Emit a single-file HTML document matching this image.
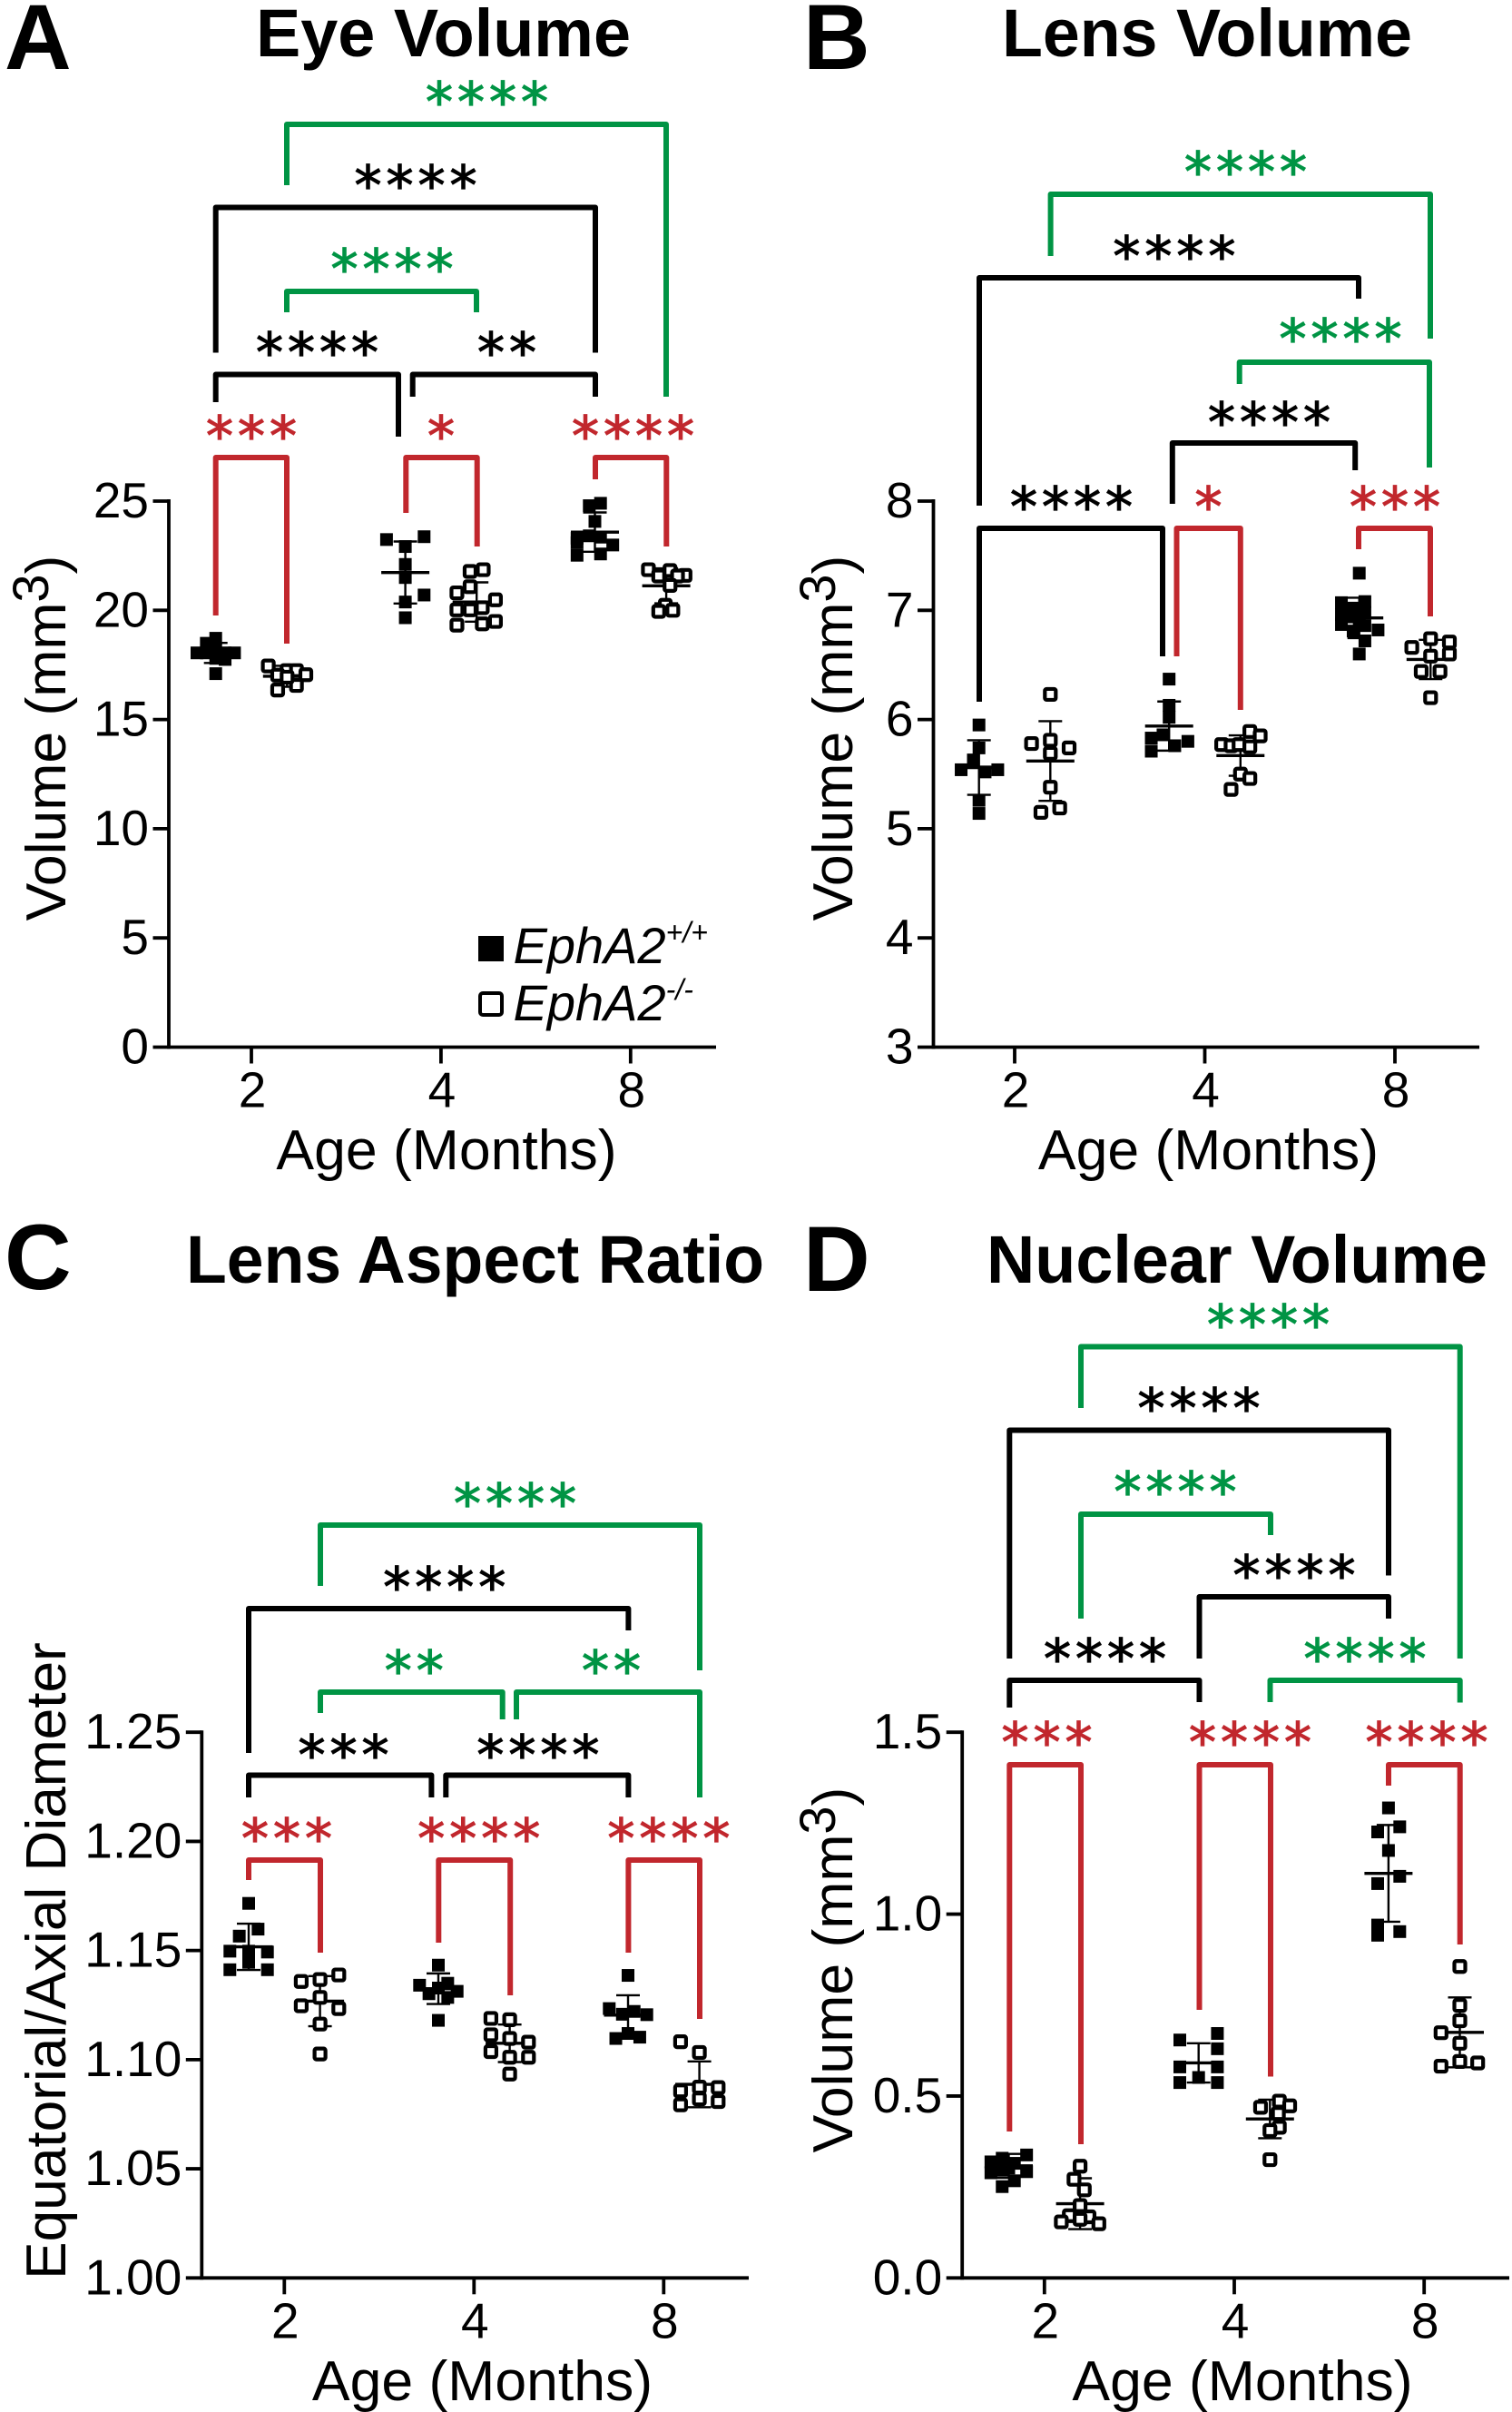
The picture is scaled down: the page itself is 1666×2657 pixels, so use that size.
<!DOCTYPE html>
<html lang="en">
<head>
<meta charset="utf-8">
<title>EphA2 lens and eye measurements</title>
<style>
html,body{margin:0;padding:0;background:#fff}
svg{display:block}
text{font-family:"Liberation Sans",sans-serif;fill:#000}
.panel-letter{font-size:102px;font-weight:700}
.title{font-size:74px;font-weight:700}
.axis-title{font-size:62.5px}
.tick-label{font-size:55px}
.stars{font-family:"DejaVu Sans",sans-serif;font-size:60px;letter-spacing:5px;text-anchor:middle;stroke-width:1.2px}
.k{fill:#000;stroke:#000}.r{fill:#c1272d;stroke:#c1272d}.g{fill:#009444;stroke:#009444}
.br{fill:none;stroke-width:6;stroke-linejoin:round}
.bk{stroke:#000}.br-r{stroke:#c1272d}.br-g{stroke:#009444}
.legend-text{font-size:56px;font-style:italic}
</style>
</head>
<body>
<svg id="figure" xmlns="http://www.w3.org/2000/svg" width="1666" height="2657" viewBox="0 0 1666 2657">
<rect width="1666" height="2657" fill="#fff"/>

<g id="panel-a">
  <text class="panel-letter" x="5" y="76">A</text>
  <text class="title" x="282" y="62" textLength="413" lengthAdjust="spacingAndGlyphs">Eye Volume</text>
  <text class="axis-title" transform="translate(72,813) rotate(-90)" text-anchor="middle">Volume (mm<tspan font-size="56" dy="-19">3</tspan><tspan dy="19">)</tspan></text>
  <text class="axis-title" x="492" y="1288" text-anchor="middle">Age (Months)</text>
  <path class="br br-g" d="M316 204V137H734V437"/>
  <path class="br bk" d="M237.7 388.5V228.5H656V388.5"/>
  <path class="br br-g" d="M316 344V321H525V344"/>
  <path class="br bk" d="M237.7 443V412.5H439V481"/>
  <path class="br bk" d="M454.7 437V412.5H656V437"/>
  <path class="br br-r" d="M237.7 678V504H316V709"/>
  <path class="br br-r" d="M447.3 565V504H525.7V602"/>
  <path class="br br-r" d="M656 528V504H734.3V602"/>
  <text class="stars g" x="539" y="133">****</text>
  <text class="stars k" x="460.5" y="225">****</text>
  <text class="stars g" x="434.5" y="317">****</text>
  <text class="stars k" x="352" y="409">****</text>
  <text class="stars k" x="561" y="409">**</text>
  <text class="stars r" x="279.5" y="501">***</text>
  <text class="stars r" x="488.5" y="501">*</text>
  <text class="stars r" x="700" y="501">****</text>
  <rect x="527" y="1031" width="28" height="28" fill="#000"/>
  <rect x="529" y="1094" width="24" height="24" rx="3" fill="#fff" stroke="#000" stroke-width="4"/>
  <text class="legend-text" x="565.5" y="1061">EphA2<tspan font-size="32" dy="-23">+/+</tspan></text>
  <text class="legend-text" x="565.5" y="1124">EphA2<tspan font-size="32" dy="-23">-/-</tspan></text>
</g>

<g id="panel-b">
  <text class="panel-letter" x="885" y="76">B</text>
  <text class="title" x="1104" y="62" textLength="452" lengthAdjust="spacingAndGlyphs">Lens Volume</text>
  <text class="axis-title" transform="translate(939,813) rotate(-90)" text-anchor="middle">Volume (mm<tspan font-size="56" dy="-19">3</tspan><tspan dy="19">)</tspan></text>
  <text class="axis-title" x="1331.5" y="1288" text-anchor="middle">Age (Months)</text>
  <path class="br br-g" d="M1157.6 282V214H1576V373"/>
  <path class="br bk" d="M1079 557V306H1497V329"/>
  <path class="br br-g" d="M1365.7 423V399H1575V515"/>
  <path class="br bk" d="M1291.8 555V488H1493.2V518"/>
  <path class="br bk" d="M1079 773V582H1281V723"/>
  <path class="br br-r" d="M1296.5 723V582H1366.8V782"/>
  <path class="br br-r" d="M1497 605V582H1576V679"/>
  <text class="stars g" x="1375" y="210">****</text>
  <text class="stars k" x="1296.4" y="303">****</text>
  <text class="stars g" x="1479.5" y="394">****</text>
  <text class="stars k" x="1401" y="486">****</text>
  <text class="stars k" x="1183" y="579">****</text>
  <text class="stars r" x="1334" y="579">*</text>
  <text class="stars r" x="1539.5" y="579">***</text>
</g>

<g id="panel-c">
  <text class="panel-letter" x="5" y="1420">C</text>
  <text class="title" x="205" y="1413" textLength="637" lengthAdjust="spacingAndGlyphs">Lens Aspect Ratio</text>
  <text class="axis-title" style="font-size:62.2px" transform="translate(72,2160) rotate(-90)" text-anchor="middle">Equatorial/Axial Diameter</text>
  <text class="axis-title" x="531.5" y="2644" text-anchor="middle">Age (Months)</text>
  <path class="br br-g" d="M353 1747V1680H771V1840"/>
  <path class="br bk" d="M274 1931V1772H692.4V1796"/>
  <path class="br br-g" d="M353 1887V1864H553.7V1894"/>
  <path class="br br-g" d="M569 1894V1864H771V1980"/>
  <path class="br bk" d="M274 1980V1955.5H475.4V1980"/>
  <path class="br bk" d="M491.3 1980V1955.5H692.4V1980"/>
  <path class="br br-r" d="M274 2071V2049H353V2151"/>
  <path class="br br-r" d="M483.3 2140V2049H562.2V2198"/>
  <path class="br br-r" d="M692.4 2151V2049H771V2224"/>
  <text class="stars g" x="570" y="1677">****</text>
  <text class="stars k" x="492.2" y="1769">****</text>
  <text class="stars g" x="458.8" y="1861">**</text>
  <text class="stars g" x="676" y="1861">**</text>
  <text class="stars k" x="381" y="1954">***</text>
  <text class="stars k" x="595.4" y="1954">****</text>
  <text class="stars r" x="318.5" y="2046">***</text>
  <text class="stars r" x="530.3" y="2046">****</text>
  <text class="stars r" x="739.4" y="2046">****</text>
</g>

<g id="panel-d">
  <text class="panel-letter" x="885" y="1422">D</text>
  <text class="title" x="1087" y="1413" textLength="552" lengthAdjust="spacingAndGlyphs">Nuclear Volume</text>
  <text class="axis-title" transform="translate(939,2170) rotate(-90)" text-anchor="middle">Volume (mm<tspan font-size="56" dy="-19">3</tspan><tspan dy="19">)</tspan></text>
  <text class="axis-title" x="1369" y="2644" text-anchor="middle">Age (Months)</text>
  <path class="br br-g" d="M1191 1551V1483.5H1608.7V1827"/>
  <path class="br bk" d="M1112.3 1827V1575.5H1530V1735.5"/>
  <path class="br br-g" d="M1191 1783V1668H1400V1691"/>
  <path class="br bk" d="M1321.5 1827V1759H1530V1783"/>
  <path class="br bk" d="M1112.3 1881V1851H1321.5V1875"/>
  <path class="br br-g" d="M1399.5 1875V1851H1608.7V1875.5"/>
  <path class="br br-r" d="M1112.3 2348V1944H1191V2362"/>
  <path class="br br-r" d="M1321.5 2214V1944H1400V2287.5"/>
  <path class="br br-r" d="M1530 1967V1944H1608.7V2142"/>
  <text class="stars g" x="1400" y="1480">****</text>
  <text class="stars k" x="1323.5" y="1572">****</text>
  <text class="stars g" x="1297.5" y="1664">****</text>
  <text class="stars k" x="1428.5" y="1756">****</text>
  <text class="stars k" x="1220" y="1848">****</text>
  <text class="stars g" x="1506.5" y="1848">****</text>
  <text class="stars r" x="1156" y="1940">***</text>
  <text class="stars r" x="1380" y="1940">****</text>
  <text class="stars r" x="1574.5" y="1940">****</text>
</g>
</svg>

<script>
// Shared categories
const ageCategories = ['2', '4', '8'];

// Panel A: Eye Volume
const eyeTicks = [0, 5, 10, 15, 20, 25];
const eyeTickLabels = ['0', '5', '10', '15', '20', '25'];
const eyeWt2 = [18.72, 18.49, 18.2, 18.05, 18.05, 18.05, 18.05, 17.8, 17.75, 17.1];
const eyeWt4 = [23.24, 23.37, 22.92, 22.1, 21.5, 20.7, 20.38, 19.66];
const eyeWt8 = [24.9, 24.79, 24.07, 23.3, 23.41, 23.35, 22.99, 22.52, 22.58, 23.1];
const eyeKo2 = [17.45, 17.24, 17.24, 17.05, 17.03, 16.56, 16.35, 16.94];
const eyeKo4 = [21.86, 21.78, 21.08, 20.8, 20.48, 20.12, 20.02, 20.02, 19.49, 19.38, 19.32];
const eyeKo8 = [21.86, 21.82, 21.57, 21.6, 21.57, 21.14, 20.23, 19.95, 20.0];
const eyeWtSlots2 = [0, -1, 0, -2, -1, 1, 2, 0, 1, 0];
const eyeWtSlots4 = [-2, 2, 0, 0, 0, 2, 0, 0];
const eyeWtSlots8 = [0.6, -0.6, 0, -1.9, -0.6, 0.6, 1.9, -1.9, 0.6, -1.9];
const eyeKoSlots2 = [-2, 0, 1, 2, -1, 1, -1, 0];
const eyeKoSlots4 = [0.7, -0.7, -0.7, -2.1, 2, 0.6, -0.7, -2.1, 2, 0.6, -2.1];
const eyeKoSlots8 = [-1.9, 0.4, -0.8, 2, 1.2, 0.4, -0.1, -0.8, 0.7];
const eyeWtMean = [18.05, 21.73, 23.58];
const eyeWtSd = [0.46, 1.42, 0.9];
const eyeKoMean = [16.98, 20.38, 21.12];
const eyeKoSd = [0.48, 0.9, 0.8];

// Panel B: Lens Volume
const lensTicks = [3, 4, 5, 6, 7, 8];
const lensTickLabels = ['3', '4', '5', '6', '7', '8'];
const lensWt2 = [5.95, 5.74, 5.63, 5.54, 5.52, 5.54, 5.26, 5.14];
const lensWt4 = [6.37, 6.13, 6.02, 5.83, 5.86, 5.8, 5.76, 5.71];
const lensWt8 = [7.34, 7.07, 7.02, 7.08, 6.96, 6.94, 6.98, 6.87, 6.81, 6.86, 6.82, 6.72, 6.6, 7.0, 6.92];
const lensKo2 = [6.23, 5.81, 5.78, 5.74, 5.69, 5.38, 5.19, 5.15];
const lensKo4 = [5.89, 5.85, 5.77, 5.76, 5.77, 5.75, 5.5, 5.46, 5.36];
const lensKo8 = [6.74, 6.66, 6.71, 6.6, 6.58, 6.44, 6.44, 6.2];
const lensWtSlots2 = [0, 0, -0.6, -1.9, 0.65, 2, 0, 0];
const lensWtSlots4 = [0, 0, 0, -1.9, -0.65, 2, 0.6, -1.9];
const lensWtSlots8 = [0, -1.9, -0.65, 0.6, -1.9, -0.65, 0.6, -1.9, -0.65, 0.6, 2, 0.6, 0, -1.3, 0];
const lensKoSlots2 = [0, 0, -2, 2, 0, 0, 1, -1];
const lensKoSlots4 = [1, 2.1, -2, -1, -0.15, 1, 0, 1, -1];
const lensKoSlots8 = [0, -2, 2, 2, 0, -1, 1, 0];
const lensWtMean = [5.56, 5.94, 6.93];
const lensWtSd = [0.25, 0.225, 0.185];
const lensKoMean = [5.62, 5.67, 6.55];
const lensKoSd = [0.365, 0.185, 0.18];

// Panel C: Lens Aspect Ratio
const ratioTicks = [1.0, 1.05, 1.1, 1.15, 1.2, 1.25];
const ratioTickLabels = ['1.00', '1.05', '1.10', '1.15', '1.20', '1.25'];
const ratioWt2 = [1.1716, 1.1598, 1.1566, 1.1497, 1.1497, 1.1493, 1.1446, 1.1412, 1.1412];
const ratioWt4 = [1.1433, 1.1341, 1.135, 1.1302, 1.1328, 1.1313, 1.1285, 1.118];
const ratioWt8 = [1.1386, 1.1234, 1.1221, 1.1208, 1.1206, 1.112, 1.1097, 1.1103];
const ratioKo2 = [1.1388, 1.1358, 1.1367, 1.1285, 1.1247, 1.1234, 1.1163, 1.1026];
const ratioKo4 = [1.1189, 1.1183, 1.1114, 1.1097, 1.108, 1.1037, 1.1011, 1.1011, 1.0934];
const ratioKo8 = [1.1082, 1.1033, 1.0874, 1.0857, 1.0872, 1.082, 1.0808, 1.0793];
const ratioWtSlots2 = [0, 1, -1, -2, 0, 2, 0, -2, 2];
const ratioWtSlots4 = [0, -2, 1, -1, 0, 2, 1, 0];
const ratioWtSlots8 = [0, -2, 0.65, -0.6, 2, 0, -1.3, 1.25];
const ratioKoSlots2 = [2, -2, 0, 0, -2, 2, 0, 0];
const ratioKoSlots4 = [-2, 0, -2, 0, 2, -2, 0, 2, 0];
const ratioKoSlots8 = [-2, 0, 0, -2, 2, 0, 2, -2];
const ratioWtMean = [1.1517, 1.1325, 1.1204];
const ratioWtSd = [0.0106, 0.007, 0.0091];
const ratioKoMean = [1.1268, 1.1075, 1.0887];
const ratioKoSd = [0.0115, 0.0086, 0.0105];

// Panel D: Nuclear Volume
const nuclearTicks = [0, 0.5, 1.0, 1.5];
const nuclearTickLabels = ['0.0', '0.5', '1.0', '1.5'];
const nuclearWt2 = [0.338, 0.329, 0.319, 0.315, 0.289, 0.302, 0.292, 0.267, 0.251, 0.296];
const nuclearWt4 = [0.672, 0.654, 0.63, 0.58, 0.58, 0.551, 0.537, 0.537];
const nuclearWt8 = [1.292, 1.24, 1.226, 1.175, 1.104, 1.084, 0.97, 0.942, 0.952];
const nuclearKo2 = [0.307, 0.271, 0.242, 0.199, 0.171, 0.168, 0.161, 0.154, 0.149];
const nuclearKo4 = [0.486, 0.469, 0.473, 0.452, 0.414, 0.405, 0.325];
const nuclearKo8 = [0.856, 0.749, 0.707, 0.674, 0.645, 0.595, 0.591, 0.582];
const nuclearWtSlots2 = [1.9, -0.7, -1.9, 0.6, -1.9, 0, 1.9, 0.6, -0.7, -0.7];
const nuclearWtSlots4 = [2, -2, 2, -2, 2, 0, -2, 2];
const nuclearWtSlots8 = [0, 1.2, -1.15, 0, 1.2, -1.15, -1.15, -1.15, 1.2];
const nuclearKoSlots2 = [0, -0.65, 0.45, 0, -1.15, 0.95, 0, -2, 2];
const nuclearKoSlots4 = [1, -1, 2.1, 0.9, 1, 0, 0];
const nuclearKoSlots8 = [0, 0, 0, -2, 0, 0, 1.9, -2];
const nuclearWtMean = [0.308, 0.591, 1.112];
const nuclearWtSd = [0.033, 0.054, 0.133];
const nuclearKoMean = [0.204, 0.437, 0.675];
const nuclearKoSd = [0.07, 0.053, 0.096];

const SVG_NS = 'http://www.w3.org/2000/svg';

function make(parent, tag, attrs) {
  const node = document.createElementNS(SVG_NS, tag);
  for (const key in attrs) node.setAttribute(key, attrs[key]);
  parent.appendChild(node);
  return node;
}

function linearScale(domainMin, domainMax, rangeMin, rangeMax) {
  return function (v) {
    return rangeMin + (v - domainMin) / (domainMax - domainMin) * (rangeMax - rangeMin);
  };
}

function drawAxes(panel, y, ticks, labels, frame) {
  const yAxis = make(panel, 'line', { x1: frame.axisX, x2: frame.axisX, y1: y(ticks[ticks.length - 1]) - 2, y2: frame.baseY + 2, stroke: '#000', 'stroke-width': 3.8 });
  
  
  const xAxis = make(panel, 'line', { x1: frame.axisX, x2: frame.endX, y1: frame.baseY, y2: frame.baseY, stroke: '#000', 'stroke-width': 3.8 });
  
  
  ticks.forEach(function (t, i) {
    const tick = make(panel, 'line', { x1: frame.axisX - 17.5, x2: frame.axisX, y1: y(t), y2: y(t), stroke: '#000', 'stroke-width': 3.8 });
    
    
    const label = make(panel, 'text', { class: 'tick-label', x: frame.axisX - 22, y: y(t) + 18, 'text-anchor': 'end' });
    
    
    label.textContent = labels[i];
  });
  ageCategories.forEach(function (c, i) {
    const tx = frame.firstTick + i * frame.tickStep;
    const tick = make(panel, 'line', { x1: tx, x2: tx, y1: frame.baseY, y2: frame.baseY + 18, stroke: '#000', 'stroke-width': 3.8 });
    
    
    const label = make(panel, 'text', { class: 'tick-label', x: tx + 1, y: frame.baseY + 66, 'text-anchor': 'middle' });
    
    
    label.textContent = c;
  });
}

function drawGroup(panel, y, cx, values, slots, mean, sd, isOpen) {
  const stem = make(panel, 'line', { x1: cx, x2: cx, y1: y(mean + sd), y2: y(mean - sd), stroke: '#000', 'stroke-width': 2.4 });
  
  
  [mean + sd, mean - sd].forEach(function (e) {
    const cap = make(panel, 'line', { x1: cx - 13, x2: cx + 13, y1: y(e), y2: y(e), stroke: '#000', 'stroke-width': 2.4 });
    
    
  });
  const meanLine = make(panel, 'line', { x1: cx - 26.5, x2: cx + 26.5, y1: y(mean), y2: y(mean), stroke: '#000', 'stroke-width': 3.4 });
  
  
  values.forEach(function (v, i) {
    const px = cx + slots[i] * 10.35;
    const mark = isOpen
      ? make(panel, 'rect', { x: px - 6, y: y(v) - 6, width: 12, height: 12, rx: 2, fill: '#fff', stroke: '#000', 'stroke-width': 4.2 })
      : make(panel, 'rect', { x: px - 7, y: y(v) - 7, width: 14, height: 14, fill: '#000' });
    
    
  });
}

function drawPanel(id, frame, domain, ticks, labels, wt, wtSlots, wtMean, wtSd, ko, koSlots, koMean, koSd) {
  const panel = document.getElementById(id);
  const y = linearScale(domain[0], domain[1], frame.baseY, frame.topY);
  drawAxes(panel, y, ticks, labels, frame);
  ageCategories.forEach(function (c, i) {
    const tx = frame.firstTick + i * frame.tickStep;
    drawGroup(panel, y, tx - frame.offset, wt[i], wtSlots[i], wtMean[i], wtSd[i], false);
    drawGroup(panel, y, tx + frame.offset, ko[i], koSlots[i], koMean[i], koSd[i], true);
  });
}

drawPanel('panel-a',
  { axisX: 186, endX: 789, baseY: 1153.5, topY: 552, firstTick: 277, tickStep: 208.9, offset: 39.3 },
  [0, 25], eyeTicks, eyeTickLabels,
  [eyeWt2, eyeWt4, eyeWt8], [eyeWtSlots2, eyeWtSlots4, eyeWtSlots8], eyeWtMean, eyeWtSd,
  [eyeKo2, eyeKo4, eyeKo8], [eyeKoSlots2, eyeKoSlots4, eyeKoSlots8], eyeKoMean, eyeKoSd);

drawPanel('panel-b',
  { axisX: 1028.5, endX: 1630, baseY: 1153.5, topY: 552, firstTick: 1118, tickStep: 209.5, offset: 39.3 },
  [3, 8], lensTicks, lensTickLabels,
  [lensWt2, lensWt4, lensWt8], [lensWtSlots2, lensWtSlots4, lensWtSlots8], lensWtMean, lensWtSd,
  [lensKo2, lensKo4, lensKo8], [lensKoSlots2, lensKoSlots4, lensKoSlots8], lensKoMean, lensKoSd);

drawPanel('panel-c',
  { axisX: 222.3, endX: 825, baseY: 2509.3, topY: 1908.2, firstTick: 313.3, tickStep: 209, offset: 39.3 },
  [1, 1.25], ratioTicks, ratioTickLabels,
  [ratioWt2, ratioWt4, ratioWt8], [ratioWtSlots2, ratioWtSlots4, ratioWtSlots8], ratioWtMean, ratioWtSd,
  [ratioKo2, ratioKo4, ratioKo8], [ratioKoSlots2, ratioKoSlots4, ratioKoSlots8], ratioKoMean, ratioKoSd);

drawPanel('panel-d',
  { axisX: 1060.2, endX: 1663, baseY: 2509.3, topY: 1908.2, firstTick: 1150.8, tickStep: 209.2, offset: 39.3 },
  [0, 1.5], nuclearTicks, nuclearTickLabels,
  [nuclearWt2, nuclearWt4, nuclearWt8], [nuclearWtSlots2, nuclearWtSlots4, nuclearWtSlots8], nuclearWtMean, nuclearWtSd,
  [nuclearKo2, nuclearKo4, nuclearKo8], [nuclearKoSlots2, nuclearKoSlots4, nuclearKoSlots8], nuclearKoMean, nuclearKoSd);
</script>
</body>
</html>
